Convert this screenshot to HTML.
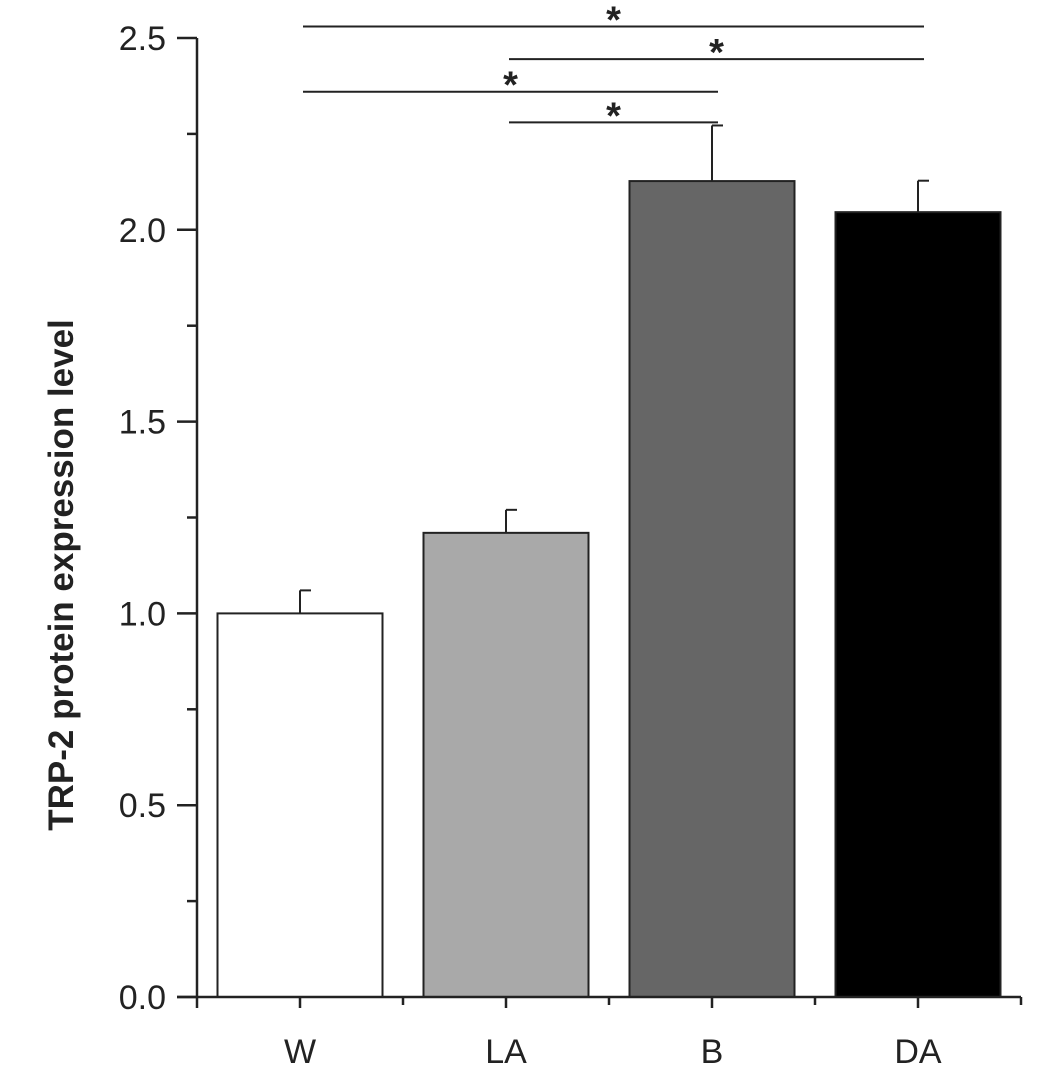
<!DOCTYPE html>
<html><head><meta charset="utf-8"><style>
html,body{margin:0;padding:0;background:#fff;}
svg text{font-family:"Liberation Sans",Arial,sans-serif;fill:#222;}
</style></head><body>
<svg id="chart" width="1063" height="1078" viewBox="0 0 1063 1078" xmlns="http://www.w3.org/2000/svg"></svg>
<script>
const categories=["W","LA","B","DA"];
const means=[1.0,1.21,2.127,2.046];
const errors=[0.06,0.06,0.145,0.082];
const fills=["#ffffff","#a9a9a9","#666666","#000000"];
const yTicks=[0,0.5,1.0,1.5,2.0,2.5];
const yTickLabels=["0.0","0.5","1.0","1.5","2.0","2.5"];
const sigFrom=[0,1,0,1];
const sigTo=[3,3,2,2];
const sigLevel=[2.53,2.445,2.36,2.28];

const svg=document.getElementById('chart');
const NS="http://www.w3.org/2000/svg";
const x0=197,x1=1021,yBase=997,yTop=38,yMax=2.5;
const bw=(x1-x0)/categories.length;
function Y(v){return yBase-(yBase-yTop)*v/yMax;}
function Xc(i){return x0+bw*(i+0.5);}
function mk(tag,attrs,parent){const e=document.createElementNS(NS,tag);for(const k in attrs)e.setAttribute(k,attrs[k]);(parent||svg).appendChild(e);return e;}
const barW=165;
categories.forEach((c,i)=>{
  const cx=Xc(i);
  const eb=mk('line',{x1:cx,x2:cx,y1:Y(means[i]),y2:Y(means[i]+errors[i]),stroke:'#222','stroke-width':2});
  
  
  const cap=mk('line',{x1:cx,x2:cx+11,y1:Y(means[i]+errors[i]),y2:Y(means[i]+errors[i]),stroke:'#222','stroke-width':2});
  
  
  const r=mk('rect',{x:cx-barW/2,y:Y(means[i]),width:barW,height:yBase-Y(means[i]),fill:fills[i],stroke:'#222','stroke-width':2});
  
  
  const t=mk('text',{x:cx,y:1063,'font-size':34,'text-anchor':'middle'});
  t.textContent=c;
  
  
  mk('line',{x1:cx,x2:cx,y1:yBase,y2:yBase+11,stroke:'#222','stroke-width':2.5});
  mk('line',{x1:x0+bw*(i+1),x2:x0+bw*(i+1),y1:yBase,y2:yBase+8,stroke:'#222','stroke-width':2.5});
});
mk('line',{x1:x0,x2:x0,y1:yBase,y2:yBase+11,stroke:'#222','stroke-width':2.5});
const ya=mk('line',{x1:x0,x2:x0,y1:yTop,y2:yBase,stroke:'#222','stroke-width':2.5});


const xa=mk('line',{x1:x0-20,x2:x1,y1:yBase,y2:yBase,stroke:'#222','stroke-width':2.5});


yTicks.forEach((v,i)=>{
  mk('line',{x1:x0-20,x2:x0,y1:Y(v),y2:Y(v),stroke:'#222','stroke-width':2.5});
  if(i<yTicks.length-1){const m=(v+yTicks[i+1])/2;mk('line',{x1:x0-10,x2:x0,y1:Y(m),y2:Y(m),stroke:'#222','stroke-width':2.5});}
  const t=mk('text',{x:x0-31,y:Y(v)+12,'font-size':34,'text-anchor':'end'});
  t.textContent=yTickLabels[i];
  
  
});
const yt=mk('text',{x:0,y:0,'font-size':35,'font-weight':'bold','text-anchor':'middle',transform:'translate(73,575) rotate(-90)'});
yt.textContent='TRP-2 protein expression level';


sigFrom.forEach((f,i)=>{
  const a=Xc(f)+3,b=Xc(sigTo[i])+6,y=Y(sigLevel[i]);
  const l=mk('line',{x1:a,x2:b,y1:y,y2:y,stroke:'#222','stroke-width':2});
  
  
  const s=mk('text',{x:(a+b)/2,y:y+6,'font-size':38,'font-weight':'bold','text-anchor':'middle'});
  s.textContent='*';
  
  
});
</script>
</body></html>
